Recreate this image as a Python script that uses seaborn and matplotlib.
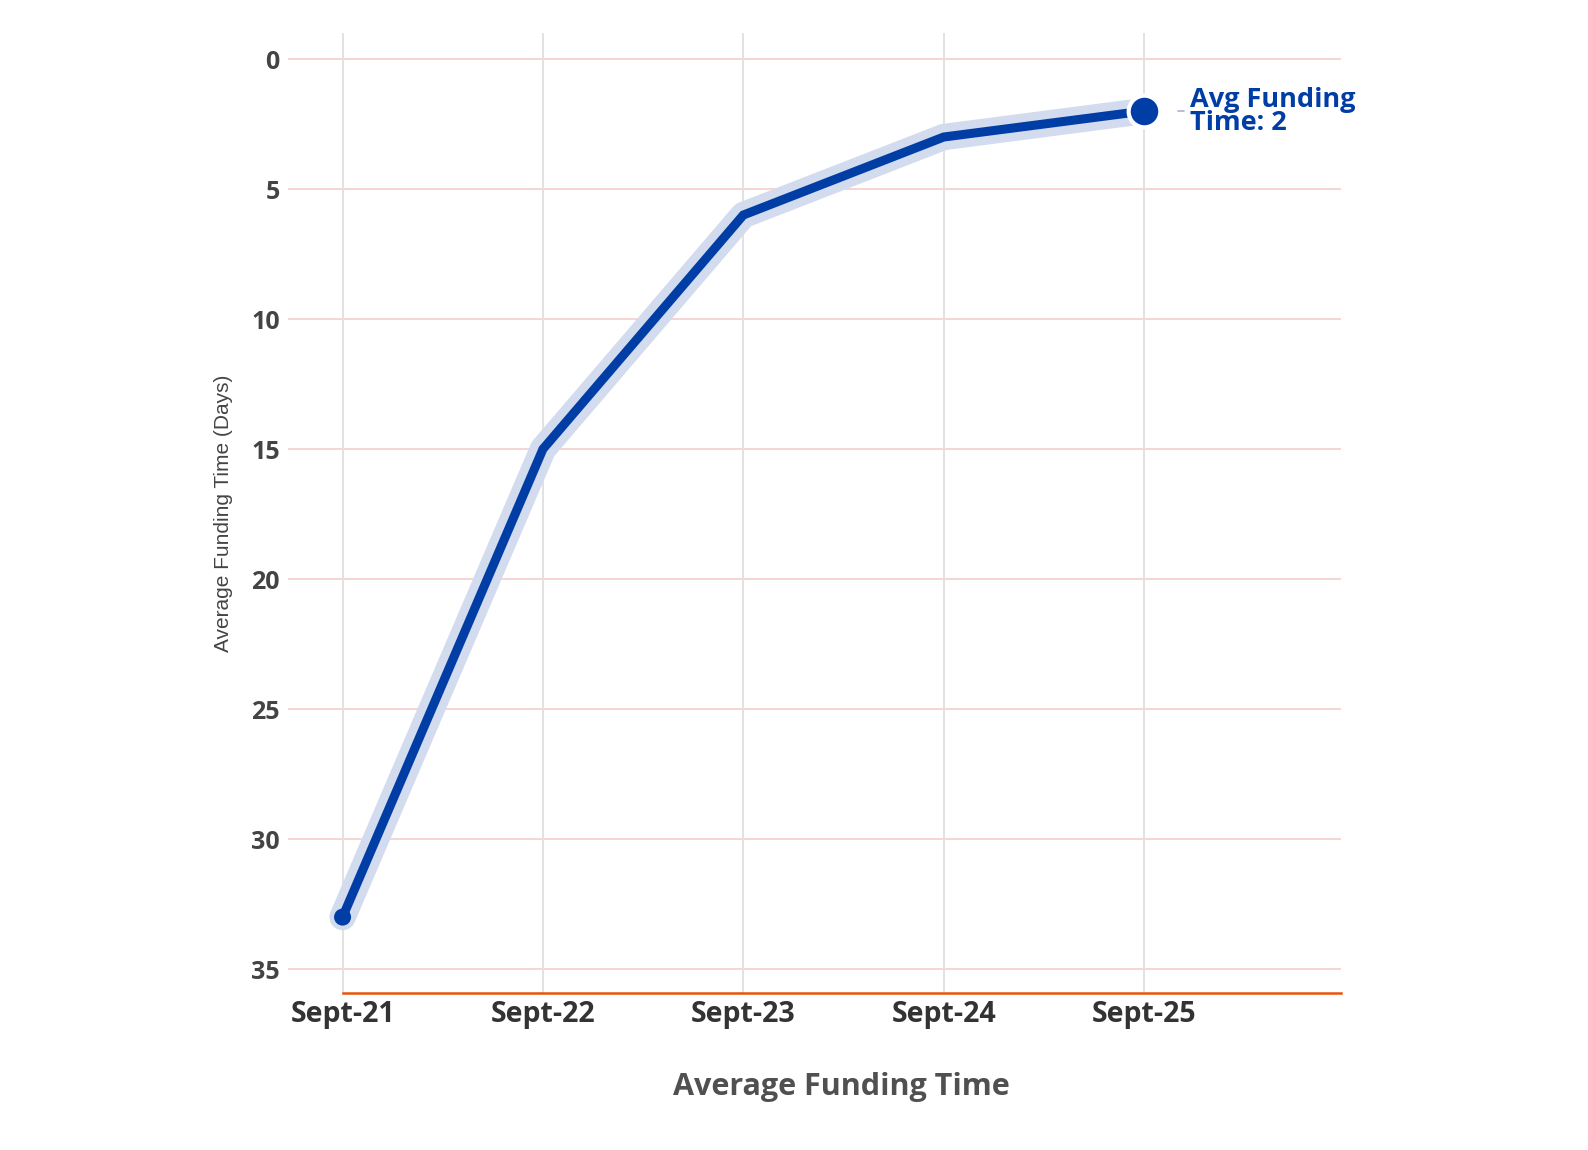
import matplotlib
matplotlib.use("Agg")
import matplotlib.pyplot as plt
import seaborn as sns
import pandas as pd

# data
periods = ["Sept-21", "Sept-22", "Sept-23", "Sept-24", "Sept-25"]
funding_days = [33, 15, 6, 3, 2]
y_ticks = [0, 5, 10, 15, 20, 25, 30, 35]

df = pd.DataFrame({"idx": range(len(periods)), "period": periods, "days": funding_days})

sns.set_theme(style="white")
plt.rcParams["font.family"] = ["Open Sans", "DejaVu Sans"]

BLUE = "#003da5"
HALO = "#d3dcef"

fig = plt.figure(figsize=(15.88, 11.5), dpi=100)
ax = fig.add_axes([0.1814, 0.1365, 0.6631, 0.8348])

# gridlines
for yt in y_ticks:
    ax.axhline(yt, color="#f6d4d4", lw=1.4, zorder=0)
for i in df["idx"]:
    ax.axvline(i, color="#e2e2e2", lw=1.4, zorder=0)

# halo + main line
sns.lineplot(data=df, x="idx", y="days", ax=ax, color=HALO, lw=19,
             solid_capstyle="round", solid_joinstyle="round", zorder=2)
sns.lineplot(data=df, x="idx", y="days", ax=ax, color=BLUE, lw=6.5,
             solid_joinstyle="miter", zorder=3)

# end markers
first, last = df.iloc[0], df.iloc[-1]
ax.scatter([first["idx"]], [first["days"]], s=150, color=BLUE, zorder=4, edgecolor="none")
ax.scatter([last["idx"]], [last["days"]], s=520, color=BLUE, zorder=5,
           edgecolor="white", linewidth=3)

ax.annotate("Avg Funding\nTime: 2", xy=(last["idx"], last["days"]),
            xytext=(33, 0), textcoords="offset points", ha="left", va="center",
            fontsize=19.5, fontweight="bold", color=BLUE, linespacing=0.85)
ax.plot([4.17, 4.2], [last["days"], last["days"]], color="#aab4c8", lw=1.2, zorder=1)

ax.set_xlim(-0.272, 4.983)
ax.set_ylim(35.92, -1.0)
ax.set_xticks(df["idx"])
ax.set_xticklabels(periods, fontsize=20.5, fontweight="bold", color="#333333")
ax.set_yticks(y_ticks)
ax.set_yticklabels([str(v) for v in y_ticks], fontsize=18, fontweight="bold", color="#444444")
ax.tick_params(axis="x", length=4, width=1.2, color="#e8540a", pad=1)
ax.tick_params(axis="y", length=0, pad=6)

for s in ["top", "right", "left"]:
    ax.spines[s].set_visible(False)
ax.spines["bottom"].set_color("#e8540a")
ax.spines["bottom"].set_linewidth(1.8)
ax.spines["bottom"].set_bounds(0, 4.983)

ax.set_xlabel("Average Funding Time", fontsize=22, fontweight="bold",
              color="#505050")
ax.xaxis.set_label_coords(0.525, -0.082)
ax.set_ylabel("Average Funding Time (Days)", fontsize=15, color="#444444",
              family=["Liberation Sans", "DejaVu Sans"])
ax.yaxis.set_label_coords(-0.052, 0.5)

fig.savefig("out.png", dpi=100)
